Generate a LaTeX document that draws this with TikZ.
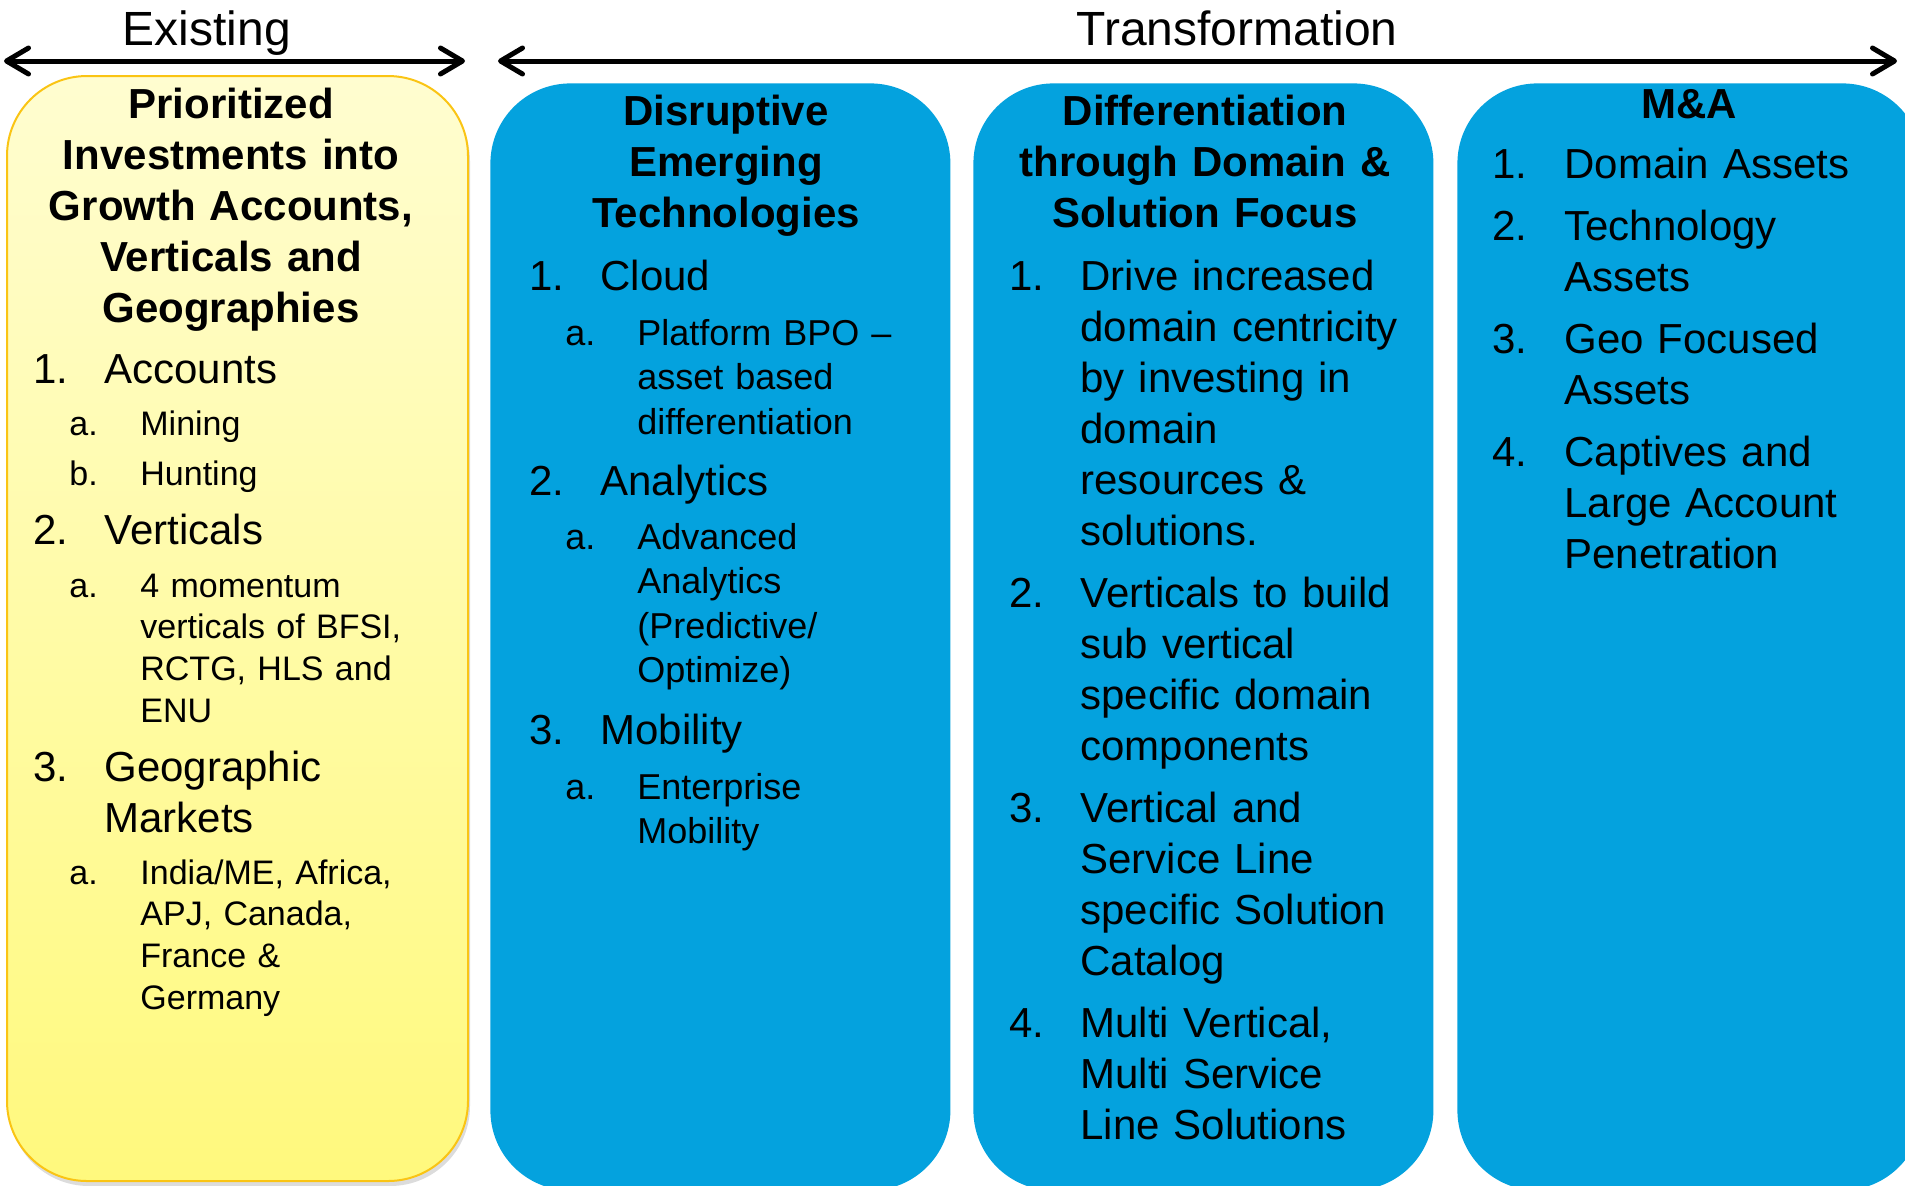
\documentclass[tikz,border=0pt]{standalone}
\usepackage{fontspec}
\setmainfont{Liberation Sans}
\usetikzlibrary{arrows.meta,shadows}
\definecolor{bluebox}{RGB}{4,162,222}
\definecolor{ytop}{RGB}{255,253,208}
\definecolor{ybot}{RGB}{255,249,125}
\definecolor{yedge}{RGB}{250,196,20}
\tikzset{
  lbl/.style={font=\fontsize{24}{28}\selectfont, anchor=base, inner sep=0},
  arr/.style={line width=2.5pt, {Straight Barb[length=11pt,width=13pt,round]}-{Straight Barb[length=11pt,width=13pt,round]}},
  ybox/.style={draw=yedge, line width=1pt, top color=ytop, bottom color=ybot, rounded corners=40pt, anchor=north west,
    drop shadow={shadow xshift=1pt, shadow yshift=-2.5pt, fill=black!45, opacity=0.3}},
  bbox/.style={fill=bluebox, draw=none, rounded corners=40pt, anchor=north west},
  hd/.style={font=\bfseries\fontsize{21}{25.5}\selectfont, align=center, text width=240pt, anchor=base, inner sep=0},
  num/.style={font=\fontsize{21}{25.5}\selectfont, anchor=base west, inner sep=0},
  itm/.style={font=\fontsize{21}{25.5}\selectfont, anchor=base west, inner sep=0, text width=230pt, align=left},
  ysn/.style={font=\fontsize{17}{20.85}\selectfont, anchor=base west, inner sep=0},
  ysub/.style={font=\fontsize{17}{20.85}\selectfont, anchor=base west, inner sep=0, text width=200pt, align=left},
  bsn/.style={font=\fontsize{18}{22.25}\selectfont, anchor=base west, inner sep=0},
  bsub/.style={font=\fontsize{18}{22.25}\selectfont, anchor=base west, inner sep=0, text width=200pt, align=left},
}
\begin{document}
\begin{tikzpicture}[x=0.5pt,y=-0.5pt]
\useasboundingbox (0,0) rectangle (1905,1185);
\clip (0,0) rectangle (1905,1185);

% panels
\node[ybox, minimum width=230.5pt, minimum height=552.5pt] (pY) at (6,75) {};
\node[bbox, minimum width=230pt, minimum height=553.5pt] (pA) at (490,83) {};
\node[bbox, minimum width=230pt, minimum height=553.5pt] (pB) at (973,83) {};
\node[bbox, minimum width=232.5pt, minimum height=553.5pt] (pC) at (1457,83) {};

% top labels and arrows
\node[lbl] (lex) at (207,45) {Existing};
\node[lbl] (ltr) at (1237,45) {Transformation};
\coordinate (exL) at (4,61);
\coordinate (exR) at (465,61);
\coordinate (trL) at (498,61);
\coordinate (trR) at (1897,61);
\draw[arr] (exL) -- (exR);
\draw[arr] (trL) -- (trR);

% yellow panel
\node[hd] (yh) at (231,118) {Prioritized\\Investments into\\Growth Accounts,\\Verticals and\\Geographies};
\node[num] (yn1) at (33,383) {1.};
\node[itm] (yt1) at (104,383) {Accounts};
\node[ysn] (yn1a) at (69,435) {a.};
\node[ysub] (yt1a) at (140,435) {Mining};
\node[ysn] (yn1b) at (69,485) {b.};
\node[ysub] (yt1b) at (140,485) {Hunting};
\node[num] (yn2) at (33,544) {2.};
\node[itm] (yt2) at (104,544) {Verticals};
\node[ysn] (yn2a) at (69,597) {a.};
\node[ysub] (yt2a) at (140,597) {4 momentum\\verticals of BFSI,\\RCTG, HLS and\\ENU};
\node[num] (yn3) at (33,781) {3.};
\node[itm] (yt3) at (104,781) {Geographic\\Markets};
\node[ysn] (yn3a) at (69,884) {a.};
\node[ysub] (yt3a) at (140,884) {India/ME, Africa,\\APJ, Canada,\\France \&\\Germany};

% blue panel 1
\node[hd] (ah) at (726,125) {Disruptive\\Emerging\\Technologies};
\node[num] (an1) at (529,290) {1.};
\node[itm] (at1) at (600,290) {Cloud};
\node[bsn] (an1a) at (565,345) {a.};
\node[bsub] (at1a) at (637,345) {Platform BPO –\\asset based\\differentiation};
\node[num] (an2) at (529,495) {2.};
\node[itm] (at2) at (600,495) {Analytics};
\node[bsn] (an2a) at (565,549) {a.};
\node[bsub] (at2a) at (637,549) {Advanced\\Analytics\\(Predictive/\\Optimize)};
\node[num] (an3) at (529,744) {3.};
\node[itm] (at3) at (600,744) {Mobility};
\node[bsn] (an3a) at (565,799) {a.};
\node[bsub] (at3a) at (637,799) {Enterprise\\Mobility};

% blue panel 2
\node[hd] (bh) at (1205,125) {Differentiation\\through Domain \&\\Solution Focus};
\node[num] (bn1) at (1009,290) {1.};
\node[itm] (bt1) at (1080,290) {Drive increased\\domain centricity\\by investing in\\domain\\resources \&\\solutions.};
\node[num] (bn2) at (1009,607) {2.};
\node[itm] (bt2) at (1080,607) {Verticals to build\\sub vertical\\specific domain\\components};
\node[num] (bn3) at (1009,822) {3.};
\node[itm] (bt3) at (1080,822) {Vertical and\\Service Line\\specific Solution\\Catalog};
\node[num] (bn4) at (1009,1037) {4.};
\node[itm] (bt4) at (1080,1037) {Multi Vertical,\\Multi Service\\Line Solutions};

% blue panel 3
\node[hd] (ch) at (1689,118) {M\&A};
\node[num] (cn1) at (1492,178) {1.};
\node[itm] (ct1) at (1564,178) {Domain Assets};
\node[num] (cn2) at (1492,240) {2.};
\node[itm] (ct2) at (1564,240) {Technology\\Assets};
\node[num] (cn3) at (1492,353) {3.};
\node[itm] (ct3) at (1564,353) {Geo Focused\\Assets};
\node[num] (cn4) at (1492,466) {4.};
\node[itm] (ct4) at (1564,466) {Captives and\\Large Account\\Penetration};
\end{tikzpicture}
\end{document}
